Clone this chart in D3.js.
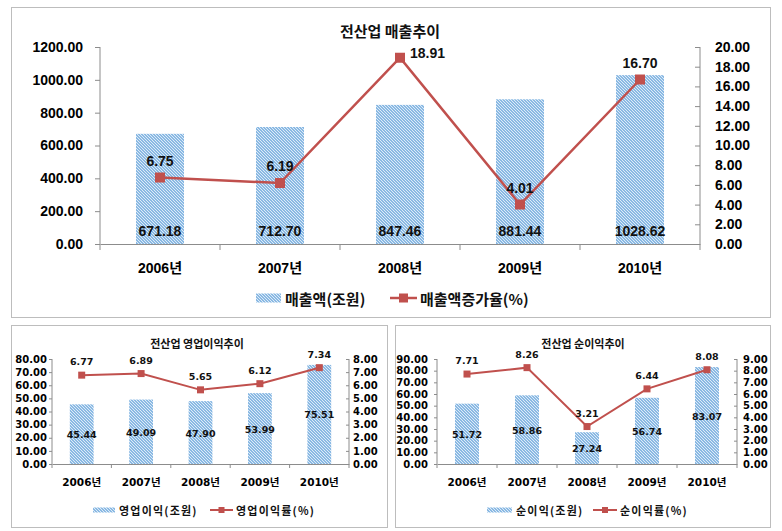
<!DOCTYPE html>
<html><head><meta charset="utf-8">
<script src="https://cdn.jsdelivr.net/npm/d3@7"></script>
<style>body{margin:0;background:#fff} svg{display:block}</style>
</head><body><svg id="c" width="782" height="531"></svg>
<script>
// ---- data ----
const years = ["2006년","2007년","2008년","2009년","2010년"];
const sales = [671.18, 712.70, 847.46, 881.44, 1028.62];
const salesGrowth = [6.75, 6.19, 18.91, 4.01, 16.70];
const opProfit = [45.44, 49.09, 47.90, 53.99, 75.51];
const opMargin = [6.77, 6.89, 5.65, 6.12, 7.34];
const netProfit = [51.72, 58.86, 27.24, 56.74, 83.07];
const netMargin = [7.71, 8.26, 3.21, 6.44, 8.08];
const salesTicks = [0,200,400,600,800,1000,1200];
const growthTicks = [0,2,4,6,8,10,12,14,16,18,20];
const opTicks = [0,10,20,30,40,50,60,70,80];
const opRateTicks = [0,1,2,3,4,5,6,7,8];
const netTicks = [0,10,20,30,40,50,60,70,80,90];
const netRateTicks = [0,1,2,3,4,5,6,7,8,9];
const titles = ["전산업 매출추이","전산업 영업이익추이","전산업 순이익추이"];
const barNames = ["매출액(조원)","영업이익(조원)","순이익(조원)"];
const lineNames = ["매출액증가율(%)","영업이익률(%)","순이익률(%)"];

const svg = d3.select("#c");
const defs = svg.append("defs");
const pat = defs.append("pattern").attr("id","hatch").attr("patternUnits","userSpaceOnUse")
  .attr("width",3).attr("height",3);
pat.append("rect").attr("width",3).attr("height",3).attr("fill","#8ab9e3");
pat.append("path").attr("d","M-1,-1 L4,4 M-1,2 L1,4 M2,-1 L4,1")
  .attr("stroke","#e6f0fa").attr("stroke-width",0.9);

const RED = "#c0504d";
const AX = "#8c8c8c";

function panel(c){
  const g = svg.append("g");
  g.append("rect").attr("x",c.box[0]+0.5).attr("y",c.box[1]+0.5).attr("width",c.box[2]).attr("height",c.box[3])
    .attr("fill","#fff").attr("stroke","#bdbdbd").attr("stroke-width",1);
  g.append("text").attr("x",c.title[0]).attr("y",c.title[1]).attr("text-anchor","middle")
    .attr("dominant-baseline","central")
    .style("font",`bold ${c.titleSize}px 'Noto Sans CJK KR', sans-serif`).attr("fill","#111").text(c.titleText);

  const x = d3.scaleBand().domain(years).range([c.x0,c.x1]).paddingInner(0.6).paddingOuter(0.3);
  const yL = d3.scaleLinear().domain([0, d3.max(c.lTicks)]).range([c.yb,c.yt]);
  const yR = d3.scaleLinear().domain([0, d3.max(c.rTicks)]).range([c.yb,c.yt]);
  const font = c.font;

  // bars
  g.append("g").selectAll("rect").data(c.bars).join("rect")
    .attr("x",(d,i)=>x(years[i])).attr("width",x.bandwidth())
    .attr("y",d=>yL(d)).attr("height",d=>yL(0)-yL(d)).attr("fill","url(#hatch)");

  // axes
  const la = g.append("g").attr("transform",`translate(${c.x0},0)`)
    .call(d3.axisLeft(yL).tickValues(c.lTicks).tickFormat(d3.format(".2f")).tickSize(c.tick).tickPadding(c.lPad));
  const ra = g.append("g").attr("transform",`translate(${c.x1},0)`)
    .call(d3.axisRight(yR).tickValues(c.rTicks).tickFormat(d3.format(".2f")).tickSizeInner(-c.tick).tickSizeOuter(0).tickPadding(c.rPad));
  const ba = g.append("g").attr("transform",`translate(0,${c.yb})`)
    .call(d3.axisBottom(x).tickSize(0).tickPadding(c.bPad));
  [la,ra,ba].forEach(a=>{
    a.select(".domain").attr("stroke",AX);
    a.selectAll(".tick line").attr("stroke",AX);
    a.selectAll("text").style("font",font).attr("fill","#000");
  });
  ba.selectAll("text").style("font",c.catFont);
  la.select(".domain").attr("d",`M0,${c.yt}V${c.yb}`);
  ra.select(".domain").attr("d",`M0,${c.yt}V${c.yb}`);
  // category boundary ticks
  const half = x.step()/2;
  const bounds = years.map(d=>x(d)+x.bandwidth()/2-half).concat([x(years[years.length-1])+x.bandwidth()/2+half]);
  ba.selectAll("line.bt").data(bounds).join("line").attr("class","bt")
    .attr("x1",d=>d).attr("x2",d=>d).attr("y1",0).attr("y2",c.tick+1).attr("stroke",AX);

  // bar labels
  g.append("g").selectAll("text").data(c.bars).join("text")
    .attr("x",(d,i)=>x(years[i])+x.bandwidth()/2)
    .attr("y",d=> c.barLabelBase ? c.yb-8 : (yL(d)+yL(0))/2 + 4)
    .attr("text-anchor","middle").style("font",c.labelFont).attr("fill","#111")
    .text(d=>d.toFixed(2));

  // line
  const cx = (i)=>x(years[i])+x.bandwidth()/2;
  g.append("path").datum(c.line).attr("fill","none").attr("stroke",RED).attr("stroke-width",c.lw)
    .attr("d",d3.line().x((d,i)=>cx(i)).y(d=>yR(d)));
  g.append("g").selectAll("rect").data(c.line).join("rect")
    .attr("x",(d,i)=>cx(i)-c.ms/2).attr("y",d=>yR(d)-c.ms/2).attr("width",c.ms).attr("height",c.ms)
    .attr("fill",RED);
  g.append("g").selectAll("text").data(c.line).join("text")
    .attr("x",(d,i)=> c.rightLabel===i ? cx(i)+10 : cx(i))
    .attr("y",d=> yR(d) - c.lineOff)
    .attr("dy",(d,i)=> c.rightLabel===i ? c.lineOff : 0)
    .attr("text-anchor",(d,i)=> c.rightLabel===i ? "start" : "middle")
    .style("font",c.labelFont).attr("fill","#111").text(d=>d.toFixed(2));

  // legend
  const L = c.legend;
  g.append("rect").attr("x",L.sx).attr("y",L.y-L.sh/2).attr("width",L.sw).attr("height",L.sh).attr("fill","url(#hatch)");
  g.append("text").attr("x",L.sx+L.sw+4).attr("y",L.y).attr("dominant-baseline","central")
    .style("font",L.font).style("letter-spacing",L.ls+"px").attr("fill","#111").text(c.barName);
  g.append("line").attr("x1",L.lx).attr("x2",L.lx+L.lw).attr("y1",L.y).attr("y2",L.y).attr("stroke",RED).attr("stroke-width",c.lw);
  g.append("rect").attr("x",L.lx+L.lw/2-L.ms/2).attr("y",L.y-L.ms/2).attr("width",L.ms).attr("height",L.ms).attr("fill",RED);
  g.append("text").attr("x",L.lx+L.lw+3).attr("y",L.y).attr("dominant-baseline","central")
    .style("font",L.font).style("letter-spacing",L.ls+"px").attr("fill","#111").text(c.lineName);
}

const topFont = "bold 14px 'Liberation Sans', 'Noto Sans CJK KR', sans-serif";
panel({box:[11,7,759,310], title:[390,30], titleSize:15, titleText:titles[0],
  x0:100,x1:700,yt:47,yb:244, lTicks:salesTicks, rTicks:growthTicks, bars:sales, line:salesGrowth,
  font:topFont, catFont:topFont, labelFont:topFont, tick:5, lPad:12, rPad:15, bPad:19,
  barLabelBase:true, lw:2.5, ms:10, lineOff:12, rightLabel:2,
  barName:barNames[0], lineName:lineNames[0],
  legend:{y:298, sx:256, sw:25, sh:9, lx:390, lw:27, ms:9, ls:0, font:"bold 15px 'Noto Sans CJK KR', sans-serif"}});

const smallFont = "bold 10px 'DejaVu Sans', 'Noto Sans CJK KR', sans-serif";
const smallCat = "bold 10.5px 'DejaVu Sans', 'Noto Sans CJK KR', sans-serif";
const smallLabel = "bold 9.5px 'DejaVu Sans', sans-serif";
panel({box:[11,325,376,202], title:[197,343], titleSize:11, titleText:titles[1],
  x0:52,x1:349,yt:359,yb:464, lTicks:opTicks, rTicks:opRateTicks, bars:opProfit, line:opMargin,
  font:smallFont, catFont:smallCat, labelFont:smallLabel, tick:3, lPad:2, rPad:4, bPad:15,
  barLabelBase:false, lw:2, ms:7, lineOff:10, rightLabel:-1,
  barName:barNames[1], lineName:lineNames[1],
  legend:{y:510, sx:93, sw:22, sh:5, lx:210, lw:23, ms:6, ls:1.2, font:"bold 11px 'Noto Sans CJK KR', sans-serif"}});

panel({box:[395,325,375,202], title:[583,343], titleSize:11, titleText:titles[2],
  x0:437,x1:737,yt:359,yb:464, lTicks:netTicks, rTicks:netRateTicks, bars:netProfit, line:netMargin,
  font:smallFont, catFont:smallCat, labelFont:smallLabel, tick:3, lPad:6, rPad:6, bPad:15,
  barLabelBase:false, lw:2, ms:7, lineOff:10, rightLabel:-1,
  barName:barNames[2], lineName:lineNames[2],
  legend:{y:510, sx:487, sw:25, sh:5, lx:593, lw:24, ms:6, ls:1.2, font:"bold 11px 'Noto Sans CJK KR', sans-serif"}});
</script></body></html>
